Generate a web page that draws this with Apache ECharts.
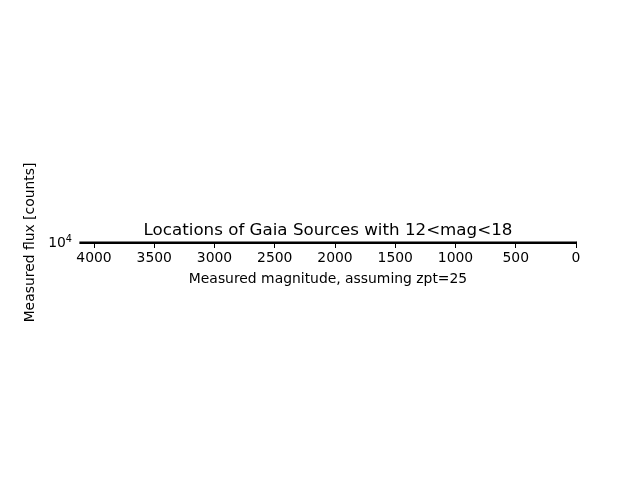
<!DOCTYPE html>
<html>
<head>
<meta charset="utf-8">
<script src="https://cdn.jsdelivr.net/npm/echarts@6/dist/echarts.min.js"></script>
<style>html,body{margin:0;padding:0;background:#fff}#c{width:640px;height:480px}</style>
</head>
<body>
<div id="c"></div>
<script>
const titleText = 'Locations of Gaia Sources with 12<mag<18';
const xName = 'Measured magnitude, assuming zpt=25';
const yName = 'Measured flux [counts]';
const xMin = 0;
const xMax = 4116;
const xInterval = 500;
const yTickLabel = '10';
const yTickExp = '4';
const sourceMag = [];
const sourceFlux = [];

const chart = echarts.init(document.getElementById('c'), null, {renderer: 'canvas'});
const font = 'DejaVu Sans';
chart.setOption({
  animation: false,
  backgroundColor: '#fff',
  textStyle: {fontFamily: font},
  title: {
    text: titleText,
    left: 323, top: 217, textAlign: 'center',
    textStyle: {fontFamily: font, fontSize: 16.7, fontWeight: 'normal', color: '#000'}
  },
  grid: {left: 80, right: 64, top: 242, height: 1, containLabel: false,
         show: true, borderColor: '#000', borderWidth: 1.2, backgroundColor: 'transparent'},
  xAxis: [{
    type: 'value', inverse: true, min: xMin, max: xMax, interval: xInterval,
    name: xName, nameLocation: 'middle', nameGap: 29,
    nameTextStyle: {fontFamily: font, fontSize: 13.9, color: '#000'},
    axisLine: {show: true, lineStyle: {color: '#000', width: 1.2}},
    axisTick: {show: true, length: 5, lineStyle: {color: '#000'}},
    axisLabel: {fontFamily: font, fontSize: 13.9, color: '#000', margin: 8, showMaxLabel: false,
                formatter: v => String(v)},
    splitLine: {show: false}
  }],
  yAxis: [{
    type: 'value', min: 0, max: 1, interval: 1,
    name: yName, nameLocation: 'middle', nameGap: 38,
    nameTextStyle: {fontFamily: font, fontSize: 13.9, color: '#000'},
    axisLine: {show: true, lineStyle: {color: '#000'}},
    axisTick: {show: true, length: 5, lineStyle: {color: '#000'}},
    axisLabel: {
      margin: 8, color: '#000', showMaxLabel: false,
      formatter: v => v === 0 ? '{b|' + yTickLabel + '}{s|' + yTickExp + '}' : '',
      rich: {
        b: {fontFamily: font, fontSize: 13.9, color: '#000'},
        s: {fontFamily: font, fontSize: 9.7, color: '#000', verticalAlign: 'top', padding: [0,0,7,0]}
      }
    },
    splitLine: {show: false}
  }],
  series: [{
    type: 'scatter', data: sourceMag.map((m, i) => [m, sourceFlux[i]]),
    symbolSize: 4, itemStyle: {color: '#1f77b4'}
  }]
});
</script>
</body>
</html>
